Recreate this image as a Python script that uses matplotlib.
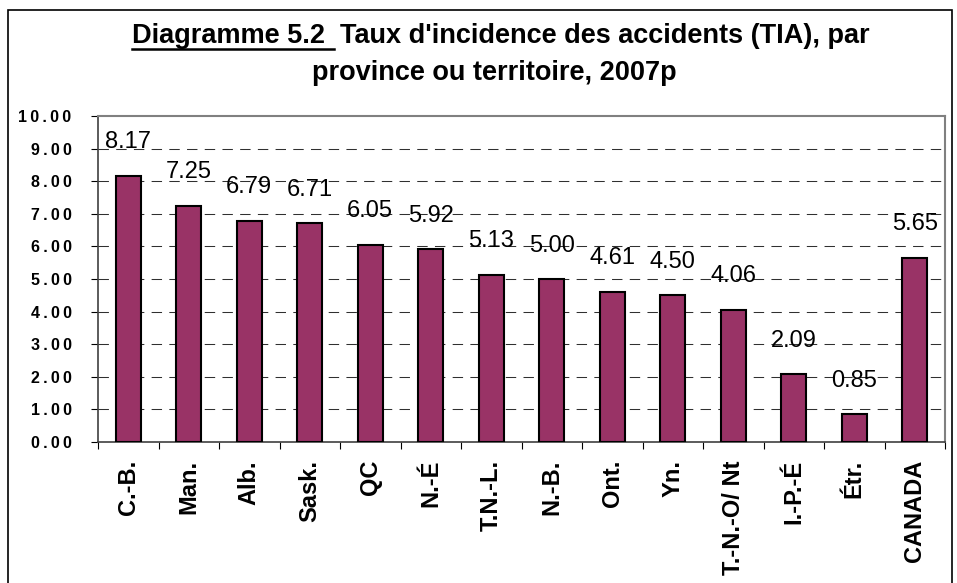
import matplotlib
matplotlib.use("Agg")
import matplotlib.pyplot as plt
from matplotlib.patches import Rectangle
from matplotlib.lines import Line2D

categories = ["C.-B.", "Man.", "Alb.", "Sask.", "QC", "N.-É", "T.N.-L.", "N.-B.",
              "Ont.", "Yn.", "T.-N.-O/ Nt", "I.-P.-É", "Étr.", "CANADA"]
values = [8.17, 7.25, 6.79, 6.71, 6.05, 5.92, 5.13, 5.00, 4.61, 4.50, 4.06, 2.09, 0.85, 5.65]
yticks = [0, 1, 2, 3, 4, 5, 6, 7, 8, 9, 10]

plt.rcParams['font.family'] = ['Liberation Sans', 'DejaVu Sans']

W, H = 957, 583
fig = plt.figure(figsize=(W / 100, H / 100), dpi=100)
fig.patch.set_facecolor("white")

# outer chart border
fig.add_artist(Rectangle((8 / W, -0.05), 944 / W, 1 - 10 / H + 0.05, transform=fig.transFigure,
                         fill=False, edgecolor="black", linewidth=1.2))

ax = fig.add_axes([98 / W, 1 - 442 / H, 847 / W, (442 - 116) / H])
x = list(range(len(categories)))
ax.bar(x, values, width=0.41, color="#993366", edgecolor="black", linewidth=1.5, zorder=3)
ax.set_xlim(-0.5, len(categories) - 0.5)
ax.set_ylim(0, 10)
ax.set_yticks(yticks)
ax.set_yticklabels(["\u2009".join(f"{v:.2f}") for v in yticks], fontsize=11.5, fontweight="bold")
ax.set_xticks([i - 0.5 for i in range(len(categories) + 1)], minor=False)
ax.set_xticklabels([])
ax.set_xticks(x, minor=True)
ax.set_xticklabels(categories, minor=True, rotation=90, fontsize=17, fontweight="bold", va="top")
ax.tick_params(axis="x", which="major", length=5, direction="out", color="black")
ax.tick_params(axis="x", which="minor", length=0, pad=13)
ax.tick_params(axis="y", length=5, direction="out", pad=14)
for yv in yticks[1:-1]:
    ax.axhline(yv, color="#303030", linestyle=(0, (10, 7)), linewidth=0.75, zorder=1)
for s in ["top", "right"]:
    ax.spines[s].set_color("#808080")
    ax.spines[s].set_linewidth(1.5)
for s in ["left", "bottom"]:
    ax.spines[s].set_color("#404040")
    ax.spines[s].set_linewidth(1.2)

for xi, v in zip(x, values):
    ax.annotate(f"{v:.2f}", (xi, v), xytext=(0, 24), textcoords="offset points",
                ha="center", va="center", fontsize=17, zorder=4)

# title
TS = 19.5
t1a = fig.text(132 / W, 1 - 43 / H, "Diagramme 5.2", fontsize=TS, fontweight="bold",
               ha="left", va="baseline")
fig.canvas.draw()
r = fig.canvas.get_renderer()
bb = t1a.get_window_extent(r)
fig.text((bb.x1 + 15) / W, 1 - 43 / H, "Taux d'incidence des accidents (TIA), par", fontsize=TS,
         fontweight="bold", ha="left", va="baseline")
fig.add_artist(Line2D([bb.x0 / W, (bb.x1 + 9) / W], [1 - 49 / H] * 2, transform=fig.transFigure,
                      color="black", linewidth=1.8))
fig.text(494 / W, 1 - 80 / H, "province ou territoire, 2007p", fontsize=TS, fontweight="bold",
         ha="center", va="baseline")

fig.savefig("out.png", dpi=100)
